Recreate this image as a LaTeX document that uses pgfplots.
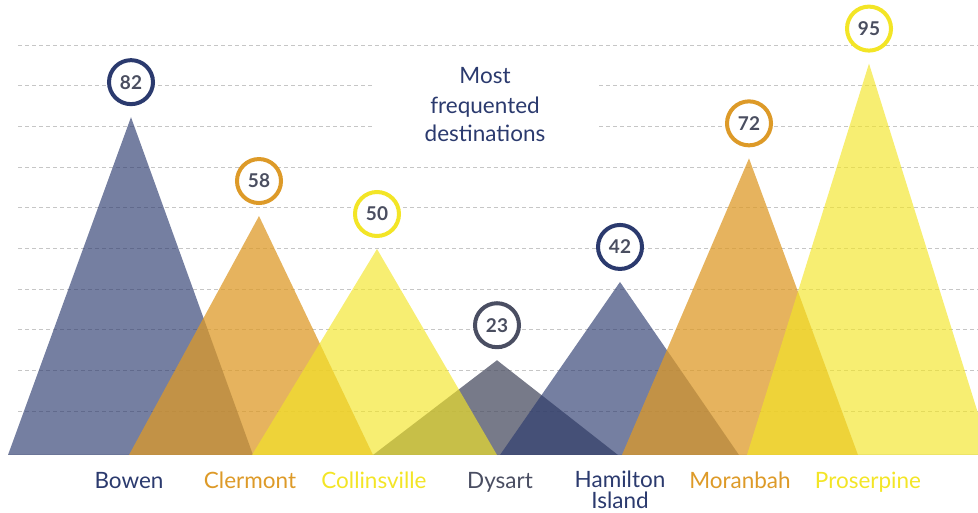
\documentclass[border=0pt]{standalone}
\usepackage{pgfplots}
\pgfplotsset{compat=1.18}
\usepackage{fontspec}
\setmainfont{Lato}
\definecolor{navy}{HTML}{2B3A6E}
\definecolor{orng}{HTML}{DD9A28}
\definecolor{yel}{HTML}{F3E526}
\definecolor{dgray}{HTML}{4A4E62}
\definecolor{numgray}{HTML}{4A4E60}
\definecolor{gridc}{HTML}{C6C6C6}
\definecolor{basec}{HTML}{E4E4E4}
\pgfplotsset{
  tri/.style={draw=none, mark=none, fill=#1, forget plot},
  gl/.style={gridc, line width=1pt, dash pattern=on 4pt off 3pt, mark=none, forget plot},
  circ/.style={draw=none, mark=none, forget plot, nodes near coords,
    every node near coord/.append style={circle, draw=#1, line width=4pt, fill=white,
      minimum size=44pt, inner sep=0pt, anchor=center, yshift=35pt, text=numgray,
      font=\fontsize{19}{22}\selectfont\bfseries}},
}
\tikzset{
  lab/.style={anchor=base, inner sep=0pt, font=\fontsize{22.5}{26}\selectfont, text=#1},
}
\begin{document}
\begin{tikzpicture}
\begin{axis}[
  scale only axis, width=978pt, height=513pt,
  xmin=0, xmax=978, ymin=-14.08, ymax=110.44,
  hide axis, clip mode=individual,
  /pgf/number format/assume math mode=true,
]
\coordinate (ll) at (rel axis cs:0,0);
\coordinate (ur) at (rel axis cs:1,1);
% grid lines
\addplot[gl] coordinates {(18,99.5) (978,99.5)};
\addplot[gl] coordinates {(18,89.6) (373,89.6)};
\addplot[gl] coordinates {(599,89.6) (978,89.6)};
\addplot[gl] coordinates {(18,79.8) (373,79.8)};
\addplot[gl] coordinates {(599,79.8) (978,79.8)};
\addplot[gl] coordinates {(18,69.9) (978,69.9)};
\addplot[gl] coordinates {(18,60.0) (978,60.0)};
\addplot[gl] coordinates {(18,50.1) (978,50.1)};
\addplot[gl] coordinates {(18,40.2) (978,40.2)};
\addplot[gl] coordinates {(18,30.4) (978,30.4)};
\addplot[gl] coordinates {(18,20.5) (978,20.5)};
\addplot[gl] coordinates {(18,10.6) (978,10.6)};
\addplot[basec, line width=1pt, mark=none, forget plot] coordinates {(8,0) (978,0)};
% triangles
\addplot[tri=navy, fill opacity=0.65] coordinates {(8,0) (131,82) (253,0)} -- cycle;
\addplot[tri=orng, fill opacity=0.75] coordinates {(129,0) (259,58) (373,0)} -- cycle;
\addplot[tri=dgray, fill opacity=0.75] coordinates {(373,0) (497,23) (618,0)} -- cycle;
\addplot[tri=yel, fill opacity=0.65] coordinates {(252,0) (377,50) (497,0)} -- cycle;
\addplot[tri=navy, fill opacity=0.65] coordinates {(500,0) (620,42) (739,0)} -- cycle;
\addplot[tri=orng, fill opacity=0.75] coordinates {(622,0) (749,72) (858,0)} -- cycle;
\addplot[tri=yel, fill opacity=0.65] coordinates {(747,0) (869,95) (991,0)} -- cycle;
% value circles
\addplot[circ=navy] coordinates {(131,82)};
\addplot[circ=orng] coordinates {(259,58)};
\addplot[circ=yel] coordinates {(377,50)};
\addplot[circ=dgray] coordinates {(497,23)};
\addplot[circ=navy] coordinates {(620,42)};
\addplot[circ=orng] coordinates {(749,72)};
\addplot[circ=yel] coordinates {(869,95)};
% title
\node[lab=navy] at (axis cs:485,90.05) {Most};
\node[lab=navy] at (axis cs:485,83.0) {frequented};
\node[lab=navy] at (axis cs:485,76.0) {destinations};
% category labels
\node[lab=navy] at (axis cs:129,-8.1) {Bowen};
\node[lab=orng] at (axis cs:250,-8.1) {Clermont};
\node[lab=yel] at (axis cs:374,-8.1) {Collinsville};
\node[lab=dgray] at (axis cs:500,-8.1) {Dysart};
\node[lab=navy] at (axis cs:620,-8.0) {Hamilton};
\node[lab=navy] at (axis cs:620,-13.1) {Island};
\node[lab=orng] at (axis cs:740,-8.1) {Moranbah};
\node[lab=yel] at (axis cs:868,-8.1) {Proserpine};
\end{axis}
\pgfresetboundingbox
\path[use as bounding box] (ll) rectangle (ur);
\end{tikzpicture}
\end{document}
